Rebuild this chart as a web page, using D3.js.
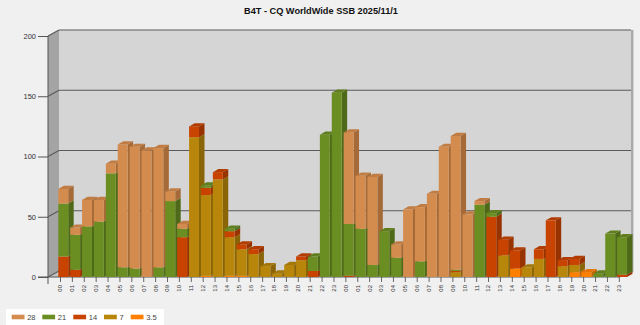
<!DOCTYPE html>
<html>
<head>
<meta charset="utf-8">
<script src="https://cdn.jsdelivr.net/npm/d3@7/dist/d3.min.js"></script>
<style>
  html, body { margin: 0; padding: 0; background: #f0f0f0; }
  svg { display: block; font-family: "Liberation Sans", Arial, sans-serif; }
</style>
</head>
<body>
<svg id="chart" width="640" height="325"></svg>
<script>
// Hourly QSO counts per band, two contest days (00..23, 00..23)
const hours = [
  "00","01","02","03","04","05","06","07","08","09","10","11",
  "12","13","14","15","16","17","18","19","20","21","22","23",
  "00","01","02","03","04","05","06","07","08","09","10","11",
  "12","13","14","15","16","17","18","19","20","21","22","23"
];
const bands = ["28", "21", "14", "7", "3.5"];
const s28  = [12,6,22,18,8,102,101,105,99,8,4,0, 0,0,0,0,0,0,0,0,0,0,0,0,
              76,44,73,0,11,56,45,69,108,111,52,3, 0,0,0,0,0,0,0,0,0,0,0,0];
const s21  = [44,29,42,46,86,8,7,0,8,63,7,0, 2,0,2,0,0,0,0,0,0,12,118,153,
              43,40,10,38,16,0,13,0,0,1,0,60, 3,0,0,0,0,0,0,0,0,3,36,31];
const s14  = [17,6,0,0,0,0,0,0,0,0,33,9, 6,6,5,4,4,0,0,0,3,5,0,0,
              1,0,0,0,0,0,0,0,0,1,0,0, 50,13,15,0,8,47,5,5,0,0,0,2];
const s7   = [0,0,0,0,0,0,0,0,0,0,0,116, 67,81,32,22,19,9,3,10,14,0,0,0,
              0,0,0,0,0,0,0,0,0,4,0,0, 0,18,0,8,15,0,9,6,0,0,0,0];
const s35  = [0,0,0,0,0,0,0,0,0,0,0,0, 1,0,1,1,0,0,0,0,0,0,0,0,
              0,0,0,0,0,0,0,0,0,0,0,0, 0,0,7,0,0,0,0,4,4,0,0,0];
const yTicks = [0, 50, 100, 150, 200];

// stacking order from the floor upward
const stackKeys = ["3.5", "7", "14", "21", "28"];
const seriesByBand = { "28": s28, "21": s21, "14": s14, "7": s7, "3.5": s35 };
const rows = hours.map((h, i) => {
  const r = { i: i, hour: h };
  stackKeys.forEach(k => r[k] = seriesByBand[k][i]);
  return r;
});

const palette = {
  "28":  { front: "#D48C4E", side: "#A56A37", top: "#C07C42" },
  "21":  { front: "#6B8E23", side: "#4E6A18", top: "#5F7F1E" },
  "14":  { front: "#C94300", side: "#983200", top: "#B23B00" },
  "7":   { front: "#B8860B", side: "#8A6508", top: "#A37709" },
  "3.5": { front: "#FF8000", side: "#C86400", top: "#E87400" }
};

const svg = d3.select("#chart");

// plot frame (front plane) and depth offset of the box
const FL = 48, FR = 620;
const DX = 11, DY = -6;          // wall depth
const BDX = 5.5, BDY = -3.2;      // bar depth

const y = d3.scaleLinear().domain([0, 200]).range([277, 36]);
const step = 11.89;
const x = d3.scaleBand()
  .domain(d3.range(hours.length))
  .range([57.3, 57.3 + step * hours.length])
  .paddingInner(0.167)
  .paddingOuter(0.0835);
const xt = d3.scalePoint()
  .domain(d3.range(hours.length))
  .range([60, 60 + step * (hours.length - 1)]);

const poly = pts => "M" + pts.map(p => p.join(",")).join("L") + "Z";
const y0 = y(0), yTop = y(200);

// title
svg.append("text")
  .attr("x", 321).attr("y", 13.5)
  .attr("text-anchor", "middle")
  .attr("font-size", 9.2).attr("font-weight", "bold")
  .attr("fill", "#111")
  .text("B4T - CQ WorldWide SSB 2025/11/1");

// back wall
svg.append("path")
  .attr("d", poly([[FL + DX, yTop + DY], [FR + DX, yTop + DY], [FR + DX, y0 + DY], [FL + DX, y0 + DY]]))
  .attr("fill", "#d5d5d5");
// right edge of the box
svg.append("line")
  .attr("x1", FR + DX + 1.2).attr("x2", FR + DX + 1.2)
  .attr("y1", yTop + DY).attr("y2", y0 + DY + 1)
  .attr("stroke", "#a9a9a9").attr("stroke-width", 2.4);
// left wall
svg.append("path")
  .attr("d", poly([[FL, yTop], [FL + DX, yTop + DY], [FL + DX, y0 + DY], [FL, y0]]))
  .attr("fill", "#a4a4a4");
// floor
svg.append("path")
  .attr("d", poly([[FL, y0], [FR, y0], [FR + DX, y0 + DY], [FL + DX, y0 + DY]]))
  .attr("fill", "#c4c4c4");
svg.append("path")
  .attr("d", poly([[FR, y0], [FR + DX, y0 + DY], [FR + DX + 2.5, y0 + DY], [FR + 2.5, y0]]))
  .attr("fill", "#b4b4b4");

// grid lines on back wall and left wall
const grid = svg.append("g").attr("stroke", "#5a5a5a").attr("stroke-width", 1.1).attr("fill", "none");
yTicks.forEach(t => {
  grid.append("line")
    .attr("x1", FL + DX).attr("x2", FR + DX)
    .attr("y1", y(t) + DY).attr("y2", y(t) + DY)
    .attr("stroke-opacity", t === 0 ? 0 : 1);
  grid.append("line")
    .attr("x1", FL).attr("x2", FL + DX)
    .attr("y1", y(t)).attr("y2", y(t) + DY);
});

// y axis
const yAxis = d3.axisLeft(y).tickValues(yTicks).tickSize(10).tickPadding(2);
const gy = svg.append("g").attr("transform", `translate(${FL},0)`).call(yAxis);
gy.select(".domain").remove();
gy.selectAll(".tick line").attr("stroke", "#555");
gy.selectAll(".tick text").attr("font-size", 7.5).attr("fill", "#333")
  .attr("font-family", "Liberation Sans, Arial, sans-serif");

// front edge of the left wall
svg.append("line")
  .attr("x1", FL).attr("x2", FL).attr("y1", yTop).attr("y2", y0 + 7)
  .attr("stroke", "#555").attr("stroke-width", 1);

// x axis
const xAxis = d3.axisBottom(xt).tickSize(5).tickFormat(i => hours[i]);
const gx = svg.append("g").attr("transform", `translate(0,${y0})`).call(xAxis);
gx.select(".domain").remove();
gx.selectAll(".tick line").attr("stroke", "#666");
gx.selectAll(".tick text")
  .attr("font-size", 6).attr("fill", "#333")
  .attr("font-family", "Liberation Sans, Arial, sans-serif")
  .attr("text-anchor", "end")
  .attr("dy", "0.32em")
  .attr("transform", "translate(0,6) rotate(-90)")
  .attr("x", -2).attr("y", 0);
svg.append("line")
  .attr("x1", FL - 10).attr("x2", FR).attr("y1", y0).attr("y2", y0)
  .attr("stroke", "#555").attr("stroke-width", 1);

// stacked 3D bars
const stacked = d3.stack().keys(stackKeys)(rows);
const bw = x.bandwidth();
const barsG = svg.append("g");
rows.forEach((r, i) => {
  const segs = stacked.map(s => ({ key: s.key, lo: s[i][0], hi: s[i][1] }))
    .filter(s => s.hi > s.lo);
  if (!segs.length) return;
  const g = barsG.append("g");
  const xl = x(i), xr = x(i) + bw;
  segs.forEach(s => {
    const c = palette[s.key];
    const yl = y(s.lo), yh = y(s.hi);
    g.append("path")
      .attr("d", poly([[xr, yl], [xr, yh], [xr + BDX, yh + BDY], [xr + BDX, yl + BDY]]))
      .attr("fill", c.side);
    g.append("rect")
      .attr("x", xl).attr("y", yh)
      .attr("width", bw).attr("height", yl - yh)
      .attr("fill", c.front);
  });
  const topSeg = segs[segs.length - 1];
  const yh = y(topSeg.hi);
  g.append("path")
    .attr("d", poly([[xl, yh], [xr, yh], [xr + BDX, yh + BDY], [xl + BDX, yh + BDY]]))
    .attr("fill", palette[topSeg.key].top);
});

// legend
const lg = svg.append("g");
lg.append("rect").attr("x", 6).attr("y", 309).attr("width", 158).attr("height", 16).attr("fill", "#fff");
const legendX = [11.7, 42.3, 73.3, 104, 130.7];
bands.forEach((b, k) => {
  lg.append("rect")
    .attr("x", legendX[k]).attr("y", 314.7)
    .attr("width", 12.8).attr("height", 4.6)
    .attr("fill", palette[b].front);
  lg.append("text")
    .attr("x", legendX[k] + 15.5).attr("y", 320)
    .attr("font-size", 7.5).attr("fill", "#444")
    .text(b);
});
</script>
</body>
</html>
